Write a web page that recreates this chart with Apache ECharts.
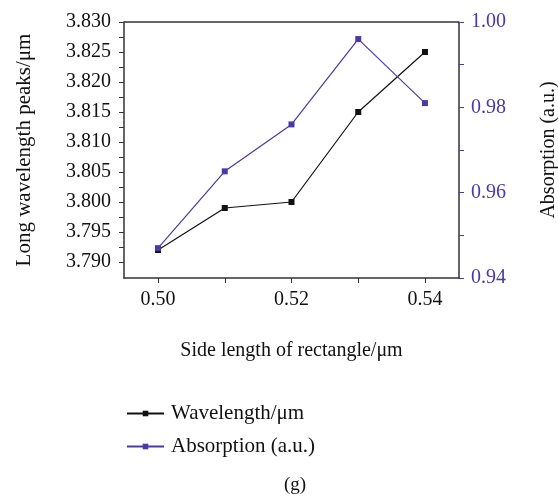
<!DOCTYPE html>
<html>
<head>
<meta charset="utf-8">
<script src="https://cdn.jsdelivr.net/npm/echarts@6/dist/echarts.min.js"></script>
<style>
  html, body { margin: 0; padding: 0; background: #fff; }
  #chart { width: 558px; height: 496px; }
</style>
</head>
<body>
<div id="chart"></div>
<script>
// Side length of the rectangle (μm)
const sideLengths = [0.50, 0.51, 0.52, 0.53, 0.54];
// Long-wavelength peak position (μm)
const wavelength = [3.792, 3.799, 3.800, 3.815, 3.825];
// Peak absorption (a.u.)
const absorption = [0.947, 0.965, 0.976, 0.996, 0.981];

// Tick labels
const xLabels = [0.50, 0.52, 0.54];
const xTicks = [0.50, 0.51, 0.52, 0.53, 0.54];
const leftLabels = [3.790, 3.795, 3.800, 3.805, 3.810, 3.815, 3.820, 3.825, 3.830];
const leftTicks = [3.790, 3.7925, 3.795, 3.7975, 3.800, 3.8025, 3.805, 3.8075, 3.810,
                   3.8125, 3.815, 3.8175, 3.820, 3.8225, 3.825, 3.8275, 3.830];

const FONT = 'Liberation Serif';
const INK = '#111';
const PURPLE = '#4a3aa6';
const AXIS = '#333';

const chart = echarts.init(document.getElementById('chart'));
chart.setOption({
  animation: false,
  backgroundColor: '#fff',
  textStyle: { fontFamily: FONT },
  grid: { left: 124, right: 99, top: 22, bottom: 218, containLabel: false, outerBoundsMode: 'none' },
  title: {
    text: '(g)', left: 290, top: 471, textAlign: 'center',
    textStyle: { fontFamily: FONT, fontSize: 19, fontWeight: 'normal', color: INK }
  },
  legend: {
    orient: 'vertical', left: 121, top: 398,
    itemWidth: 37, itemHeight: 7, itemGap: 12,
    textStyle: { fontFamily: FONT, fontSize: 21, color: INK, padding: [0, 0, 0, 2] },
    data: ['Wavelength/μm', 'Absorption (a.u.)']
  },
  xAxis: {
    type: 'value', min: 0.4949, max: 0.5451,
    name: 'Side length of rectangle/μm', nameLocation: 'middle', nameGap: 63,
    nameTextStyle: { fontFamily: FONT, fontSize: 20, color: INK },
    axisLine: { show: true, onZero: false, lineStyle: { color: AXIS, width: 1.5 } },
    axisTick: { show: true, length: 5, customValues: xTicks, lineStyle: { color: AXIS } },
    axisLabel: { customValues: xLabels, formatter: v => v.toFixed(2), margin: 12,
                 fontFamily: FONT, fontSize: 20, color: INK },
    splitLine: { show: false }
  },
  yAxis: [
    {
      type: 'value', min: 3.78733, max: 3.830, position: 'left',
      name: 'Long wavelength peaks/μm', nameLocation: 'middle', nameGap: 89, nameRotate: 90,
      nameTextStyle: { fontFamily: FONT, fontSize: 21, color: INK },
      axisLine: { show: true, onZero: false, lineStyle: { color: AXIS, width: 1.5 } },
      axisTick: { show: true, length: 5, customValues: leftTicks, lineStyle: { color: AXIS } },
      axisLabel: { customValues: leftLabels, formatter: v => v.toFixed(3), margin: 13,
                   fontFamily: FONT, fontSize: 20, color: INK },
      splitLine: { show: false }
    },
    {
      type: 'value', min: 0.94, max: 1.00, interval: 0.02, position: 'right',
      name: 'Absorption (a.u.)', nameLocation: 'middle', nameGap: 80, nameRotate: 90,
      nameTextStyle: { fontFamily: FONT, fontSize: 20, color: INK },
      axisLine: { show: true, onZero: false, lineStyle: { color: AXIS, width: 1.5 } },
      axisTick: { show: true, length: 5, lineStyle: { color: PURPLE } },
      minorTick: { show: true, splitNumber: 2, length: 5, lineStyle: { color: PURPLE } },
      axisLabel: { formatter: v => v.toFixed(2), margin: 12,
                   fontFamily: FONT, fontSize: 20, color: PURPLE },
      splitLine: { show: false }
    }
  ],
  graphic: [{
    // top border of the plotting frame
    type: 'line', z: 10,
    shape: { x1: 124, y1: 22, x2: 459, y2: 22 },
    style: { stroke: AXIS, lineWidth: 1.5 }
  }],
  series: [
    {
      name: 'Wavelength/μm', type: 'line', yAxisIndex: 0,
      data: sideLengths.map((x, i) => [x, wavelength[i]]),
      symbol: 'rect', symbolSize: 6,
      lineStyle: { color: INK, width: 1.2 },
      itemStyle: { color: INK }
    },
    {
      name: 'Absorption (a.u.)', type: 'line', yAxisIndex: 1,
      data: sideLengths.map((x, i) => [x, absorption[i]]),
      symbol: 'rect', symbolSize: 6,
      lineStyle: { color: PURPLE, width: 1.2 },
      itemStyle: { color: PURPLE }
    }
  ]
});
</script>
</body>
</html>
